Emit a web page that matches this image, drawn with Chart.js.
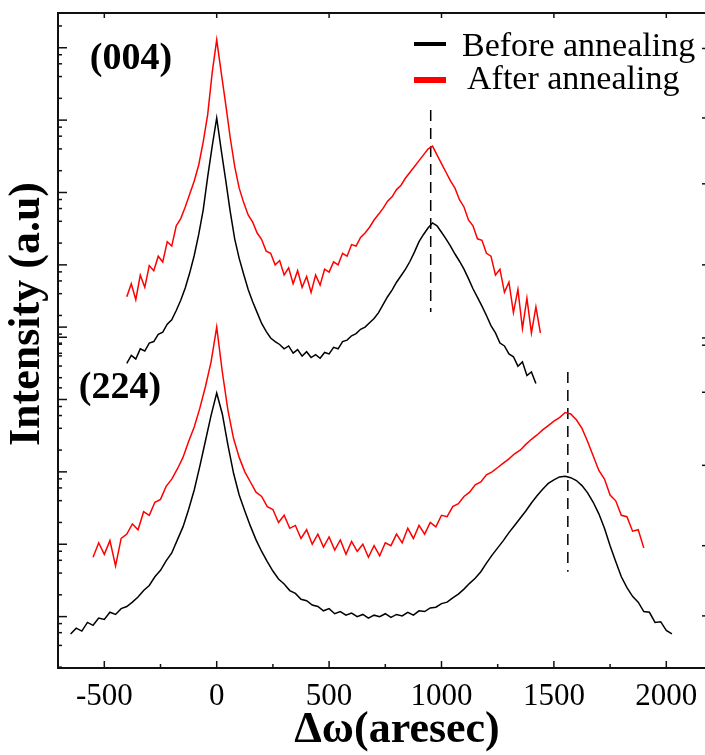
<!DOCTYPE html>
<html>
<head>
<meta charset="utf-8">
<script src="https://cdn.jsdelivr.net/npm/chart.js@4.4.1/dist/chart.umd.min.js"></script>
<style>
  html, body { margin: 0; padding: 0; background: #fff; overflow: hidden; }
  #wrap { width: 712px; height: 755px; }
</style>
</head>
<body>
<div id="wrap"><canvas id="graph" width="712" height="755"></canvas></div>
<script>
// x: delta omega (arcsec); y: log intensity in decades, each panel offset
const xTicks = [-500, 0, 500, 1000, 1500, 2000];
const xMinorTicks = [-250, 250, 750, 1250, 1750];
const lowerDecades = [-1, 0, 1, 2, 3, 4];
const upperDecades = [2.86, 3.86, 4.86, 5.86, 6.86, 7.86];
const rightTicks = [7.85, 6.89, 5.98, 4.86, 3.85, 3.75, 3.10, 2.09, 0.98, 0.01];

// (004) rocking curves, sampled every 20 arcsec from -400
const start004 = -400, step004 = 20;
const before004 = [
  3.50, 3.61, 3.56, 3.70, 3.67, 3.78, 3.80, 3.90, 3.93, 4.04,
  4.10, 4.23, 4.37, 4.54, 4.75, 4.99, 5.28, 5.62, 6.08, 6.50,
  6.89,
  6.45, 6.03, 5.60, 5.22, 4.95, 4.73, 4.52, 4.35, 4.20, 4.05,
  3.94, 3.85, 3.80, 3.76, 3.70, 3.74, 3.64, 3.69, 3.60, 3.66,
  3.58, 3.62, 3.57, 3.65, 3.63, 3.72, 3.70, 3.80, 3.82, 3.88,
  3.91, 3.97, 4.00, 4.06, 4.12, 4.20, 4.31, 4.42, 4.51, 4.62,
  4.71, 4.80, 4.91, 5.04, 5.18, 5.28, 5.37, 5.44, 5.40, 5.31,
  5.22, 5.12, 5.01, 4.91, 4.80, 4.67, 4.53, 4.41, 4.29, 4.16,
  4.02, 3.92, 3.78, 3.74, 3.63, 3.59, 3.46, 3.52, 3.33, 3.38,
  3.22
];
const after004 = [
  4.42, 4.60, 4.38, 4.72, 4.55, 4.85, 4.78, 4.98, 4.90, 5.18,
  5.12, 5.40, 5.50, 5.66, 5.84, 6.02, 6.24, 6.56, 6.94, 7.52,
  7.97,
  7.52, 7.08, 6.62, 6.22, 5.92, 5.72, 5.55, 5.45, 5.30, 5.21,
  5.05, 5.02, 4.86, 4.92, 4.72, 4.82, 4.60, 4.78, 4.55, 4.70,
  4.48, 4.72, 4.58, 4.80, 4.76, 4.90, 4.86, 5.02, 4.98, 5.14,
  5.12, 5.24, 5.30, 5.38, 5.48, 5.56, 5.64, 5.74, 5.80, 5.90,
  5.96, 6.06, 6.14, 6.22, 6.30, 6.38, 6.46, 6.50, 6.38, 6.26,
  6.14, 6.02, 5.92, 5.76, 5.66, 5.48, 5.40, 5.22, 5.20, 5.02,
  4.98, 4.72, 4.80, 4.48, 4.62, 4.20, 4.52, 3.98, 4.40, 3.92,
  4.28, 3.92
];

// (224) rocking curves, sampled every 25 arcsec
const startBefore224 = -650, startAfter224 = -550, step224 = 25;
const before224 = [
  -0.24, -0.16, -0.20, -0.08, -0.12, -0.02, -0.04, 0.06, 0.03, 0.11,
  0.14, 0.20, 0.27, 0.36, 0.43, 0.55, 0.64, 0.77, 0.88, 1.06,
  1.24, 1.48, 1.75, 2.08, 2.43, 2.78,
  3.09,
  2.80, 2.37, 1.98, 1.68, 1.46, 1.25, 1.06, 0.90, 0.76, 0.63,
  0.52, 0.45, 0.36, 0.32, 0.24, 0.22, 0.16, 0.14, 0.08, 0.11,
  0.04, 0.07, 0.02, 0.05, 0.00, 0.03, -0.02, 0.02, 0.00, 0.04,
  -0.01, 0.03, 0.01, 0.06, 0.02, 0.08, 0.07, 0.12, 0.13, 0.18,
  0.20, 0.26, 0.31, 0.38, 0.46, 0.53, 0.62, 0.74, 0.85, 0.95,
  1.05, 1.16, 1.26, 1.36, 1.46, 1.57, 1.67, 1.76, 1.84, 1.89,
  1.93, 1.94, 1.92, 1.88, 1.81, 1.71, 1.58, 1.42, 1.22, 0.98,
  0.76, 0.55, 0.40, 0.28, 0.20, 0.07, 0.06, -0.08, -0.07, -0.19,
  -0.24
];
const after224 = [
  0.82, 1.02, 0.86, 1.05, 0.70, 1.08, 1.14, 1.28, 1.20, 1.45,
  1.40, 1.58, 1.62, 1.80, 1.90, 2.04, 2.20, 2.42, 2.62, 2.88,
  3.18, 3.52,
  4.00,
  3.38, 2.85, 2.46, 2.20, 2.00, 1.86, 1.72, 1.66, 1.52, 1.48,
  1.30, 1.40, 1.22, 1.26, 1.08, 1.20, 1.00, 1.14, 0.96, 1.10,
  0.92, 1.06, 0.86, 1.04, 0.90, 1.00, 0.82, 0.98, 0.84, 1.02,
  0.98, 1.14, 1.02, 1.22, 1.08, 1.26, 1.14, 1.30, 1.24, 1.40,
  1.38, 1.52, 1.56, 1.66, 1.72, 1.82, 1.86, 1.96, 2.00, 2.06,
  2.12, 2.18, 2.25, 2.30, 2.38, 2.45, 2.51, 2.58, 2.64, 2.70,
  2.75, 2.82, 2.80, 2.72, 2.60, 2.42, 2.22, 2.02, 1.90, 1.68,
  1.60, 1.40, 1.38, 1.18, 1.20, 0.95
];

// dashed markers at the layer peak positions
const peak004 = 952, peak004Span = [7.00, 4.21];
const peak224 = 1562, peak224Span = [3.38, 0.62];

function toPoints(values, start, step) {
  return values.map((v, i) => ({ x: start + i * step, y: v }));
}

function lineSet(label, data, color, width) {
  return {
    label, data,
    borderColor: color,
    backgroundColor: color,
    borderWidth: width,
    pointRadius: 0,
    tension: 0
  };
}

const serif = '"Liberation Serif", "Times New Roman", serif';

const framePlugin = {
  id: 'frame',
  afterDatasetsDraw(chart) {
    const { ctx, chartArea: a, scales: { x, y } } = chart;
    ctx.save();
    ctx.strokeStyle = '#111';
    ctx.lineWidth = 2;
    ctx.strokeRect(a.left, a.top, a.right - a.left, a.bottom - a.top);

    ctx.lineWidth = 1.5;
    const seg = (x1, y1, x2, y2) => {
      ctx.beginPath(); ctx.moveTo(x1, y1); ctx.lineTo(x2, y2); ctx.stroke();
    };
    xTicks.forEach(v => {
      const px = x.getPixelForValue(v);
      seg(px, a.bottom, px, a.bottom - 7);
      seg(px, a.top, px, a.top + 5);
    });
    xMinorTicks.forEach(v => {
      const px = x.getPixelForValue(v);
      seg(px, a.bottom, px, a.bottom - 4);
    });

    // log-style ticks on the left axis for both panels
    const minorSteps = [2, 4, 6, 8].map(k => Math.log10(k));
    const leftTick = (v, len) => {
      if (v < y.min || v > y.max) return;
      const py = y.getPixelForValue(v);
      seg(a.left, py, a.left + len, py);
    };
    lowerDecades.forEach(d => {
      if (d >= 0) leftTick(d, 9);
      minorSteps.forEach(m => { if (d + m <= 4) leftTick(d + m, 4); });
    });
    upperDecades.forEach(d => {
      if (d > 3) leftTick(d, 9);
      minorSteps.forEach(m => { if (d + m >= 3.1) leftTick(d + m, 4); });
    });
    rightTicks.forEach(v => {
      const py = y.getPixelForValue(v);
      seg(a.right, py, a.right - 7, py);
    });

    // panel labels
    ctx.fillStyle = '#000';
    ctx.font = 'bold 38px ' + serif;
    ctx.textAlign = 'center';
    ctx.textBaseline = 'middle';
    ctx.fillText('(004)', 131, 59);
    ctx.fillText('(224)', 120, 388);

    // legend
    ctx.lineWidth = 4;
    ctx.strokeStyle = '#000';
    seg(414, 44, 446, 44);
    ctx.lineWidth = 6;
    ctx.strokeStyle = '#ff0000';
    seg(414, 80, 446, 80);
    ctx.font = '34px ' + serif;
    ctx.textAlign = 'left';
    ctx.fillText('Before annealing', 462, 47);
    ctx.fillText('After annealing', 467, 80);

    // axis titles
    ctx.font = 'bold 44px ' + serif;
    ctx.textAlign = 'center';
    ctx.fillText('\u0394\u03c9(aresec)', 397, 731);
    ctx.translate(28, 314);
    ctx.rotate(-Math.PI / 2);
    ctx.fillText('Intensity (a.u)', 0, 0);
    ctx.restore();
  }
};

const dashed = (data) => ({
  data,
  borderColor: '#000',
  borderWidth: 1.5,
  borderDash: [11, 7],
  pointRadius: 0
});

new Chart(document.getElementById('graph').getContext('2d'), {
  type: 'line',
  data: {
    datasets: [
      lineSet('After annealing (004)', toPoints(after004, start004, step004), '#ff0000', 1.5),
      lineSet('Before annealing (004)', toPoints(before004, start004, step004), '#000000', 1.5),
      lineSet('After annealing (224)', toPoints(after224, startAfter224, step224), '#ff0000', 1.5),
      lineSet('Before annealing (224)', toPoints(before224, startBefore224, step224), '#000000', 1.5),
      dashed(peak004Span.map(v => ({ x: peak004, y: v }))),
      dashed(peak224Span.map(v => ({ x: peak224, y: v })))
    ]
  },
  options: {
    responsive: false,
    animation: false,
    devicePixelRatio: 1,
    layout: { padding: { left: 58, top: 13, right: 3, bottom: 0 } },
    plugins: { legend: { display: false }, tooltip: { enabled: false } },
    scales: {
      x: {
        type: 'linear',
        min: -706,
        max: 2190,
        afterBuildTicks: scale => { scale.ticks = xTicks.map(v => ({ value: v })); },
        afterFit: scale => { scale.height = 87; },
        grid: { display: false, drawTicks: false },
        border: { display: false },
        ticks: {
          color: '#000',
          padding: 10,
          maxRotation: 0,
          font: { family: serif, size: 31 },
          callback: v => String(v)
        }
      },
      y: {
        type: 'linear',
        display: false,
        min: -0.71,
        max: 8.34
      }
    }
  },
  plugins: [framePlugin]
});
</script>
</body>
</html>
